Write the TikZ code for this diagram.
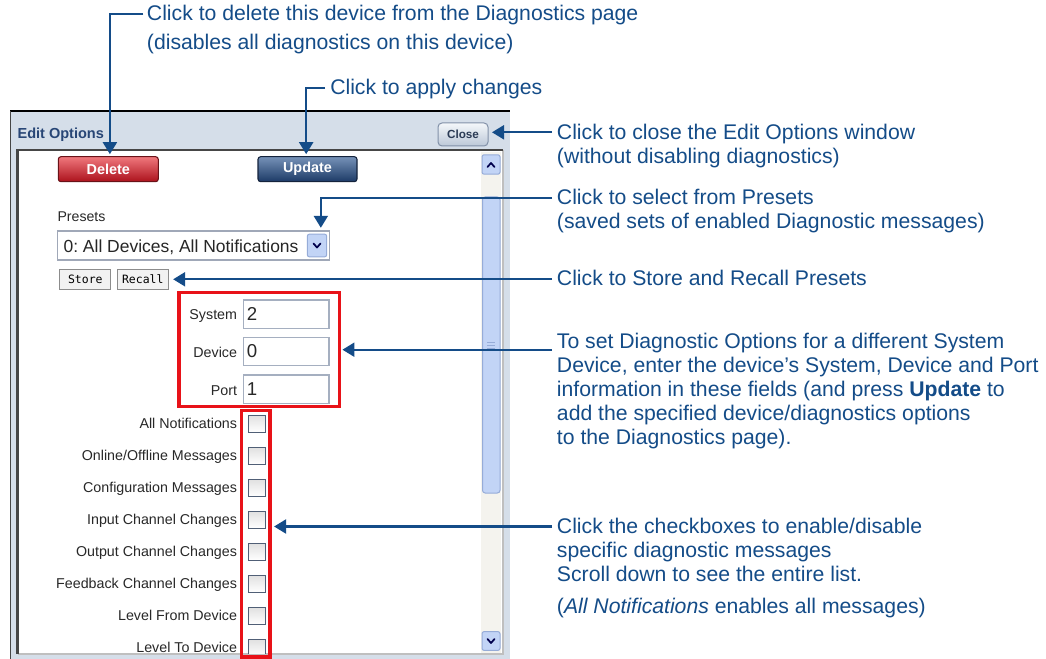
\documentclass[tikz,border=0pt]{standalone}
\usepackage{fontspec}
\setmainfont{Liberation Sans}
\newfontfamily\uimono{DejaVu Sans Mono}
\usetikzlibrary{arrows.meta,calc}
\frenchspacing
\definecolor{callblue}{RGB}{20,76,136}
\definecolor{framecol}{RGB}{213,222,233}
\definecolor{titleblue}{RGB}{40,70,118}
\definecolor{uired}{RGB}{232,18,24}
\definecolor{uigray}{RGB}{40,40,40}
\definecolor{fieldborder}{RGB}{165,175,192}
\definecolor{trackcol}{RGB}{244,243,238}
\definecolor{thumbcol}{RGB}{194,212,246}
\definecolor{thumbedge}{RGB}{150,172,216}
\definecolor{chkedge}{RGB}{80,95,118}
\definecolor{darkedge}{RGB}{70,70,70}
\tikzset{
  callout/.style={draw=callblue, line width=1.6pt, -{Triangle[length=9pt,width=10.5pt]}},
  calltext/.style={anchor=base west, inner sep=0pt, align=left, text=callblue,
    font=\fontsize{15.9}{18}\selectfont},
  uilabel/.style={anchor=base east, inner sep=0pt, text=uigray, font=\fontsize{10.7}{12}\selectfont},
  chkbox/.style={draw=chkedge, line width=0.8pt, top color=black!12, bottom color=white,
    minimum size=12.75pt, inner sep=0pt},
  fieldbox/.style={draw=fieldborder, line width=1.2pt, fill=white, minimum width=64.3pt,
    minimum height=21.2pt, inner sep=0pt},
  fieldval/.style={anchor=base west, inner sep=0pt, text=uigray, font=\fontsize{14}{16}\selectfont},
  redbox/.style={draw=uired, line width=2.4pt, inner sep=0pt},
  bigbtn/.style={rounded corners=2pt, minimum width=75pt, minimum height=18.75pt, inner sep=0pt,
    text=white, font=\bfseries\fontsize{10.8}{12}\selectfont, line width=0.8pt},
  smallbtn/.style={draw=black!45, fill=black!5, minimum width=38pt, minimum height=15pt,
    inner sep=0pt, font=\uimono\fontsize{8.6}{10}\selectfont, line width=0.75pt},
  scrollbtn/.style={draw=thumbedge, fill=thumbcol, rounded corners=1.5pt, line width=0.75pt},
  chev/.style={draw=black!70!blue, line width=1.3pt, line cap=round, line join=round},
}
\begin{document}
\begin{tikzpicture}[x=0.75pt,y=-0.75pt]
\useasboundingbox (0,0) rectangle (1046,659);
\fill[white] (0,0) rectangle (1046,659);

% ---------- window frame ----------
\fill[framecol] (10,111) rectangle (510,659);
\draw[black, line width=1.2pt] (10,111) -- (510,111);
\draw[darkedge, line width=1.2pt] (10.6,111) -- (10.6,659);
\node[anchor=base west, inner sep=0pt, text=titleblue, font=\bfseries\fontsize{10.9}{12}\selectfont]
  (title) at (17.3,138.3) {Edit Options};
\node[draw={rgb,255:red,130;green,145;blue,168}, rounded corners=3pt,
  top color={rgb,255:red,244;green,247;blue,250}, bottom color={rgb,255:red,188;green,200;blue,216},
  minimum width=37.5pt, minimum height=17.25pt, inner sep=0pt, line width=0.75pt,
  text={rgb,255:red,43;green,59;blue,85}, font=\bfseries\fontsize{8.8}{10}\selectfont]
  (close) at (463,134.5) {Close};

% inner panel
\fill[white] (17.5,150) rectangle (503,654);
\draw[black!25, line width=0.8pt] (17.5,654) -- (503,654) -- (503,150);
\draw[darkedge, line width=1.8pt] (17.5,654) -- (17.5,150) -- (503,150);

% scrollbar
\fill[trackcol] (481,152) rectangle (501,653);
\node[scrollbtn, minimum width=13.5pt, minimum height=14.5pt, inner sep=0pt] (sbUp) at (491,164.5) {};
\draw[chev] (487.5,167) -- (491,163) -- (494.5,167);
\draw[thumbedge, fill=thumbcol, rounded corners=2pt, line width=0.75pt] (482.5,197) rectangle (500,493);
\foreach \g in {342,345,348} \draw[thumbedge, line width=0.6pt] (487,\g) -- (495,\g);
\node[scrollbtn, minimum width=13.5pt, minimum height=14pt, inner sep=0pt] (sbDown) at (491,641) {};
\draw[chev] (487.5,639) -- (491,643) -- (494.5,639);

% ---------- buttons ----------
\node[bigbtn, draw={rgb,255:red,105;green,18;blue,24},
  top color={rgb,255:red,240;green,120;blue,125}, bottom color={rgb,255:red,172;green,18;blue,28}]
  (delBtn) at (108.3,169.2) {Delete};
\node[bigbtn, draw={rgb,255:red,20;green,35;blue,60}, minimum width=74.25pt,
  top color={rgb,255:red,118;green,146;blue,184}, bottom color={rgb,255:red,28;green,58;blue,102}]
  (updBtn) at (307.5,169.2) {Update};

% presets
\node[anchor=base west, inner sep=0pt, text=uigray, font=\fontsize{10.6}{12}\selectfont]
  (presetLbl) at (57.3,221.7) {Presets};
\node[draw={rgb,255:red,160;green,168;blue,184}, fill=white, line width=0.8pt,
  minimum width=204pt, minimum height=21.75pt, inner sep=0pt] (dd) at (193.3,245.5) {};
\node[anchor=base west, inner sep=0pt, text=black!85, font=\fontsize{13.1}{15}\selectfont]
  (ddText) at (63.3,252.7) {0: All Devices, All Notifications};
\node[scrollbtn, minimum width=14.5pt, minimum height=17pt, inner sep=0pt] (ddArrow) at (317,245.5) {};
\draw[chev] (313.5,243.5) -- (317,247.5) -- (320.5,243.5);

\node[smallbtn] (store) at (85.3,279.3) {Store};
\node[smallbtn] (recall) at (142.8,279.3) {Recall};

% system / device / port
\node[uilabel] (sysLbl) at (237.3,320) {System};
\node[uilabel] (devLbl) at (237.3,357.3) {Device};
\node[uilabel] (portLbl) at (237.3,395) {Port};
\node[fieldbox] (sysField) at (286.2,314.2) {};
\node[fieldbox] (devField) at (286.2,351.5) {};
\node[fieldbox] (portField) at (286.2,389.2) {};
\node[fieldval] (sysVal) at (246.5,320.7) {2};
\node[fieldval] (devVal) at (246.5,358) {0};
\node[fieldval] (portVal) at (246.5,395.7) {1};

% checkbox list
\begin{scope}
\clip (18.5,151) rectangle (480,653.5);
\foreach \lab [count=\i from 0] in {All Notifications, Online/Offline Messages,
  Configuration Messages, Input Channel Changes, Output Channel Changes,
  Feedback Channel Changes, Level From Device, Level To Device} {
  \node[uilabel] (lab\i) at (237.3,{428.6+32*\i}) {\lab};
  \node[chkbox] (chk\i) at (256.7,{423.7+32*\i}) {};
}
\end{scope}

% red highlight boxes
\node[redbox, minimum width=120.2pt, minimum height=85.5pt] (redA) at (259.2,349.7) {};
\node[redbox, minimum width=21.2pt, minimum height=184.7pt] (redB) at (255.85,533.85) {};

% ---------- callout texts (anchor = baseline of the last line) ----------
\node[calltext, font=\fontsize{15.9}{21.75}\selectfont] (tDel) at (146.7,49.7)
  {Click to delete this device from the Diagnostics page\\(disables all diagnostics on this device)};
\node[calltext] (tUpd) at (330,95) {Click to apply changes};
\node[calltext] (tClose) at (556.7,163.5)
  {Click to close the Edit Options window\\(without disabling diagnostics)};
\node[calltext] (tPre) at (556.7,228.3)
  {Click to select from Presets\\(saved sets of enabled Diagnostic messages)};
\node[calltext] (tStore) at (556.7,285.5) {Click to Store and Recall Presets};
\node[calltext] (tSys) at (556.7,444.3)
  {To set Diagnostic Options for a different System\\Device, enter the device’s System, Device and Port\\information in these fields (and press \textbf{Update} to\\add the specified device/diagnostics options\\to the Diagnostics page).};
\node[calltext] (tChk) at (556.7,613.3)
  {Click the checkboxes to enable/disable\\specific diagnostic messages\\Scroll down to see the entire list.\\[6pt](\textit{All Notifications} enables all messages)};

% ---------- connectors ----------
\coordinate (cDel) at (143.3,14);
\coordinate (cUpd) at (325,88.3);
\coordinate (cClose) at (552,132.3);
\coordinate (cPre) at (552,198.3);
\coordinate (cStore) at (552,279.3);
\coordinate (cSys) at (552,349.7);
\coordinate (cChk) at (552,526.5);

\draw[callout] (cDel) -| ([xshift=1.2pt,yshift=1.5pt]delBtn.north);
\draw[callout] (cUpd) -| ([xshift=-1pt,yshift=1.5pt]updBtn.north);
\draw[callout] (cClose) -- ($(cClose -| close.east)+(3.5,0)$);
\draw[callout] (cPre) -| ([xshift=-6.75pt,yshift=2pt]dd.north east);
\draw[callout] (cStore) -- ($(cStore -| recall.east)+(4.5,0)$);
\draw[callout] (cSys) -- ($(cSys -| redA.east)+(1.5,0)$);
\draw[callout] (cChk) -- ($(cChk -| redB.east)+(2.5,0)$);
\end{tikzpicture}
\end{document}
